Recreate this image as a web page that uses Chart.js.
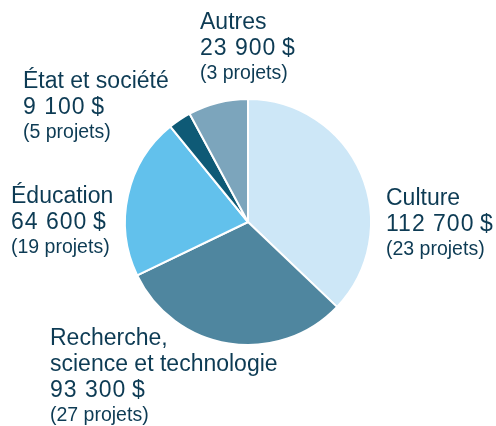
<!DOCTYPE html>
<html>
<head>
<meta charset="utf-8">
<script src="https://cdn.jsdelivr.net/npm/chart.js@4"></script>
<style>
  html, body { margin: 0; padding: 0; background: #fff; }
  #wrap { width: 496px; height: 426px; }
</style>
</head>
<body>
<div id="wrap"><canvas id="pie" width="496" height="426"></canvas></div>
<script>
// data
const categories = ['Culture', 'Recherche, science et technologie', 'Éducation', 'État et société', 'Autres'];
const amounts = [112700, 93300, 64600, 9100, 23900];
const projects = [23, 27, 19, 5, 3];
const colors = ['#cde7f7', '#4f869f', '#62c1ec', '#0e5a76', '#7ca5bc'];

// label title lines (the long one wraps)
const titleLines = [['Culture'], ['Recherche,', 'science et technologie'], ['Éducation'], ['État et société'], ['Autres']];
// left x and first baseline of each label block
const labelPos = [[386, 205], [50, 345], [11, 203], [23, 88], [200, 29]];

const textColor = '#0d3b54';
const fmt = v => v.toLocaleString('fr-FR').replace(/\s/g, ' ') + '\u2009$';

const labelPlugin = {
    id: 'sideLabels',
    afterDraw(chart) {
        const ctx = chart.ctx;
        ctx.save();
        ctx.fillStyle = textColor;
        ctx.textBaseline = 'alphabetic';
        ctx.textAlign = 'left';
        categories.forEach((c, i) => {
            let [x, y] = labelPos[i];
            ctx.font = '23px "Liberation Sans"';
            ctx.letterSpacing = '0px';
            titleLines[i].forEach(line => {
                ctx.fillText(line, x, y);
                y += 26;
            });
            ctx.letterSpacing = '1px';
            ctx.fillText(fmt(amounts[i]), x, y);
            y += 24;
            ctx.letterSpacing = '0px';
            ctx.font = '19.5px "Liberation Sans"';
            ctx.fillText('(' + projects[i] + ' projets)', x, y);
        });
        ctx.restore();
    }
};

new Chart(document.getElementById('pie').getContext('2d'), {
    type: 'pie',
    data: {
        labels: categories,
        datasets: [{
            data: amounts,
            backgroundColor: colors,
            borderColor: '#ffffff',
            borderWidth: 2
        }]
    },
    options: {
        responsive: false,
        animation: false,
        layout: { padding: { top: 98, bottom: 80, left: 124, right: 124 } },
        plugins: {
            legend: { display: false },
            tooltip: { enabled: false }
        }
    },
    plugins: [labelPlugin]
});
</script>
</body>
</html>
